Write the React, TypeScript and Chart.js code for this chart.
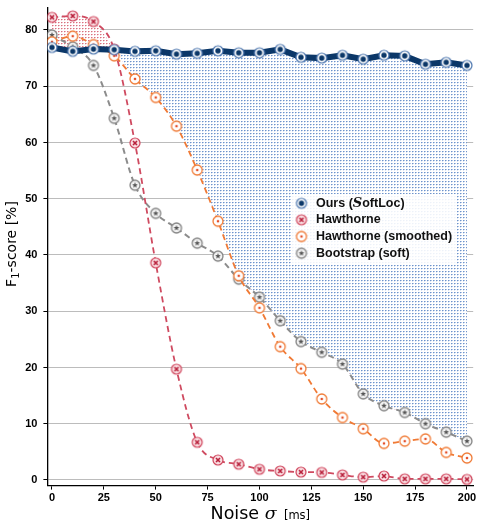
import React, { useEffect, useRef } from "react";
import { Chart, registerables } from "chart.js";

Chart.register(...registerables);

// ---------------- data ----------------
const noise = [0, 10, 20, 30, 40, 50, 60, 70, 80, 90, 100, 110, 120, 130, 140, 150, 160, 170, 180, 190, 200];
const ours = [76.9, 76.2, 76.6, 76.5, 76.2, 76.3, 75.7, 75.85, 76.3, 75.95, 75.95, 76.55, 75.15, 75.0, 75.5, 74.8, 75.5, 75.4, 73.9, 74.25, 73.7];
const hawthorne = [82.25, 82.5, 81.5, 76.6, 59.9, 38.6, 19.7, 6.7, 3.55, 2.8, 1.9, 1.6, 1.4, 1.35, 0.9, 0.5, 0.7, 0.2, 0.2, 0.2, 0.1];
const hawthorneSmoothed = [77.9, 78.9, 77.4, 75.4, 71.3, 68.0, 62.9, 55.1, 46.0, 36.3, 30.6, 23.7, 19.8, 14.4, 11.1, 9.1, 6.5, 6.9, 7.3, 4.9, 3.9];
const bootstrap = [79.1, 77.0, 73.7, 64.3, 52.4, 47.4, 44.8, 42.1, 39.8, 35.7, 32.5, 28.3, 24.6, 22.7, 20.6, 15.3, 13.2, 12.0, 10.0, 8.5, 6.9];
const yTicks = [0, 10, 20, 30, 40, 50, 60, 70, 80];
const xTicks = [0, 25, 50, 75, 100, 125, 150, 175, 200];
const seriesLabels = ["Ours (", "Hawthorne", "Hawthorne (smoothed)", "Bootstrap (soft)"];

// ---------------- styles ----------------
const NAVY = "#0b3768";
const RED = "#cf4a60";
const ORANGE = "#f07a35";
const GRAY = "#8c8c8c";

function makeMarker(kind: string): HTMLCanvasElement {
  const s = 14;
  const c = document.createElement("canvas");
  c.width = s;
  c.height = s;
  const g = c.getContext("2d")!;
  const cx = 7, cy = 7, r = 5.0;
  g.beginPath();
  g.arc(cx, cy, r, 0, Math.PI * 2);
  if (kind === "ours") {
    g.fillStyle = "#fff"; g.fill();
    g.lineWidth = 1.2; g.strokeStyle = "#4a74ad"; g.stroke();
    g.beginPath(); g.arc(cx, cy, 2.7, 0, Math.PI * 2); g.fillStyle = NAVY; g.fill();
  } else if (kind === "haw") {
    g.fillStyle = "#f9dde1"; g.fill();
    g.lineWidth = 1.2; g.strokeStyle = "#d0455c"; g.stroke();
    g.beginPath();
    g.moveTo(cx - 2, cy - 2); g.lineTo(cx + 2, cy + 2);
    g.moveTo(cx + 2, cy - 2); g.lineTo(cx - 2, cy + 2);
    g.lineWidth = 1.6; g.strokeStyle = "#b81f3a"; g.stroke();
  } else if (kind === "smooth") {
    g.fillStyle = "#fff"; g.fill();
    g.lineWidth = 1.3; g.strokeStyle = ORANGE; g.stroke();
    g.beginPath(); g.arc(cx, cy, 1.3, 0, Math.PI * 2); g.fillStyle = "#e4502a"; g.fill();
  } else {
    g.fillStyle = "#f2f2f2"; g.fill();
    g.lineWidth = 1.3; g.strokeStyle = "#858585"; g.stroke();
    g.beginPath();
    for (let i = 0; i < 10; i++) {
      const rr = i % 2 === 0 ? 3.0 : 1.3;
      const a = -Math.PI / 2 + (i * Math.PI) / 5;
      const px = cx + rr * Math.cos(a), py = cy + rr * Math.sin(a);
      if (i === 0) g.moveTo(px, py); else g.lineTo(px, py);
    }
    g.closePath(); g.fillStyle = "#555"; g.fill();
  }
  return c;
}

function makePattern(ctx: CanvasRenderingContext2D, dark: string, mid: string, light: string) {
  const c = document.createElement("canvas");
  c.width = 3; c.height = 3;
  const g = c.getContext("2d")!;
  g.fillStyle = "#fff"; g.fillRect(0, 0, 3, 3);
  g.fillStyle = dark; g.fillRect(1, 1, 1, 1);
  g.fillStyle = mid; g.fillRect(2, 1, 1, 1);
  g.fillStyle = light; g.fillRect(1, 2, 1, 1);
  return ctx.createPattern(c, "repeat")!;
}

type Seg = { t: string; font: string; dy?: number };
function drawSegs(ctx: CanvasRenderingContext2D, segs: Seg[], x: number, y: number, align: "left" | "center") {
  let total = 0;
  for (const s of segs) { ctx.font = s.font; total += ctx.measureText(s.t).width; }
  let cx = align === "center" ? x - total / 2 : x;
  for (const s of segs) {
    ctx.font = s.font;
    ctx.fillText(s.t, cx, y + (s.dy || 0));
    cx += ctx.measureText(s.t).width;
  }
}

function zeroPad(s: any) {
  s.paddingLeft = 0; s.paddingRight = 0; s.paddingTop = 0; s.paddingBottom = 0;
}

export default function App() {
  const ref = useRef<HTMLCanvasElement | null>(null);

  useEffect(() => {
    const canvas = ref.current!;
    const ctx = canvas.getContext("2d")!;
    const blue = makePattern(ctx, "#6d93cb", "#b2c7e6", "#dbe5f3");
    const red = makePattern(ctx, "#d9707f", "#edb7bf", "#f6dde0");
    const markers = [makeMarker("ours"), makeMarker("haw"), makeMarker("smooth"), makeMarker("boot")];
    const best = noise.map((_, i) => Math.max(hawthorne[i], hawthorneSmoothed[i], bootstrap[i]));
    const pts = (arr: number[]) => noise.map((x, i) => ({ x, y: arr[i] }));

    const overlay = {
      id: "overlay",
      afterDraw(chart: any) {
        const c = chart.ctx as CanvasRenderingContext2D;
        const area = chart.chartArea;
        c.save();
        // legend
        c.fillStyle = "rgba(255,255,255,0.88)";
        c.fillRect(292, 194, 165, 71);
        const rows = [203.3, 219.8, 236.5, 253.2];
        c.fillStyle = "#111";
        c.textBaseline = "middle";
        rows.forEach((ry, i) => {
          c.drawImage(markers[i], 301.5 - 7, ry - 7);
          const bold = "bold 12.5px 'Liberation Sans'";
          if (i === 0) {
            drawSegs(c, [
              { t: "Ours (", font: bold },
              { t: "S", font: "italic bold 13px 'DejaVu Serif'" },
              { t: "oftLoc)", font: bold },
            ], 316, ry, "left");
          } else {
            drawSegs(c, [{ t: seriesLabels[i], font: bold }], 316, ry, "left");
          }
        });
        // x title
        c.textBaseline = "alphabetic";
        c.fillStyle = "#000";
        const midX = (area.left + area.right) / 2;
        drawSegs(c, [
          { t: "Noise ", font: "17.5px 'DejaVu Sans'" },
          { t: "σ", font: "italic 17.5px 'DejaVu Serif'" },
          { t: "  [ms]", font: "11.5px 'DejaVu Sans'" },
        ], midX, 518.5, "center");
        // y title
        c.translate(16, 244);
        c.rotate(-Math.PI / 2);
        drawSegs(c, [
          { t: "F", font: "14px 'DejaVu Sans'" },
          { t: "1", font: "10px 'DejaVu Sans'", dy: 3 },
          { t: "-score [%]", font: "14px 'DejaVu Sans'" },
        ], 0, 0, "center");
        c.restore();
      },
    };

    const tickFont = { family: "'Liberation Sans'", weight: "bold" as const, size: 11 };

    const chart = new Chart(canvas, {
      type: "line",
      data: {
        datasets: [
          {
            label: "Ours (SoftLoc)",
            data: pts(ours),
            borderColor: NAVY,
            borderWidth: 6,
            tension: 0,
            pointStyle: markers[0] as any,
            pointRadius: 5,
            fill: { target: 4, above: blue, below: red } as any,
          },
          {
            label: seriesLabels[1],
            data: pts(hawthorne),
            borderColor: RED,
            borderWidth: 1.8,
            borderDash: [6, 4],
            cubicInterpolationMode: "monotone",
            pointStyle: markers[1] as any,
            pointRadius: 5,
            fill: false,
          },
          {
            label: seriesLabels[2],
            data: pts(hawthorneSmoothed),
            borderColor: ORANGE,
            borderWidth: 1.8,
            borderDash: [6, 4],
            cubicInterpolationMode: "monotone",
            pointStyle: markers[2] as any,
            pointRadius: 5,
            fill: false,
          },
          {
            label: seriesLabels[3],
            data: pts(bootstrap),
            borderColor: GRAY,
            borderWidth: 2,
            borderDash: [6, 4],
            cubicInterpolationMode: "monotone",
            pointStyle: markers[3] as any,
            pointRadius: 5,
            fill: false,
          },
          {
            label: "best baseline",
            data: pts(best),
            borderColor: "rgba(0,0,0,0)",
            borderWidth: 0,
            cubicInterpolationMode: "monotone",
            pointRadius: 0,
            fill: false,
          },
        ],
      },
      options: {
        responsive: false,
        animation: false,
        events: [],
        layout: { autoPadding: false, padding: { left: 0, top: 7.5, right: 3.8, bottom: 0 } },
        plugins: {
          legend: { display: false },
          tooltip: { enabled: false },
          filler: { drawTime: "beforeDatasetsDraw" } as any,
        },
        scales: {
          x: {
            type: "linear",
            min: -2.2,
            max: 203,
            afterBuildTicks: (s: any) => { s.ticks = xTicks.map((v) => ({ value: v })); },
            afterFit: (s: any) => { s.height = 35.4; zeroPad(s); },
            grid: { drawOnChartArea: false, drawTicks: true, tickLength: 4, tickColor: "#000", tickWidth: 1 },
            border: { display: true, color: "#000", width: 1.3 },
            ticks: { font: tickFont, color: "#000", padding: 2, maxRotation: 0, autoSkip: false },
          },
          y: {
            type: "linear",
            min: -1,
            max: 84,
            afterBuildTicks: (s: any) => { s.ticks = yTicks.map((v) => ({ value: v })); },
            afterFit: (s: any) => { s.width = 47.4; zeroPad(s); },
            grid: { color: "#bcbcbc", lineWidth: 1, drawTicks: true, tickLength: 4, tickColor: "#000" },
            border: { display: true, color: "#000", width: 1.3 },
            ticks: { font: tickFont, color: "#000", padding: 6 },
          },
        },
      },
      plugins: [overlay],
    });
    return () => chart.destroy();
  }, []);

  return (
    <div style={{ position: "absolute", left: 0, top: 0, width: 477, height: 521, background: "#fff" }}>
      <canvas ref={ref} width={477} height={521} style={{ display: "block", width: 477, height: 521 }} />
    </div>
  );
}
